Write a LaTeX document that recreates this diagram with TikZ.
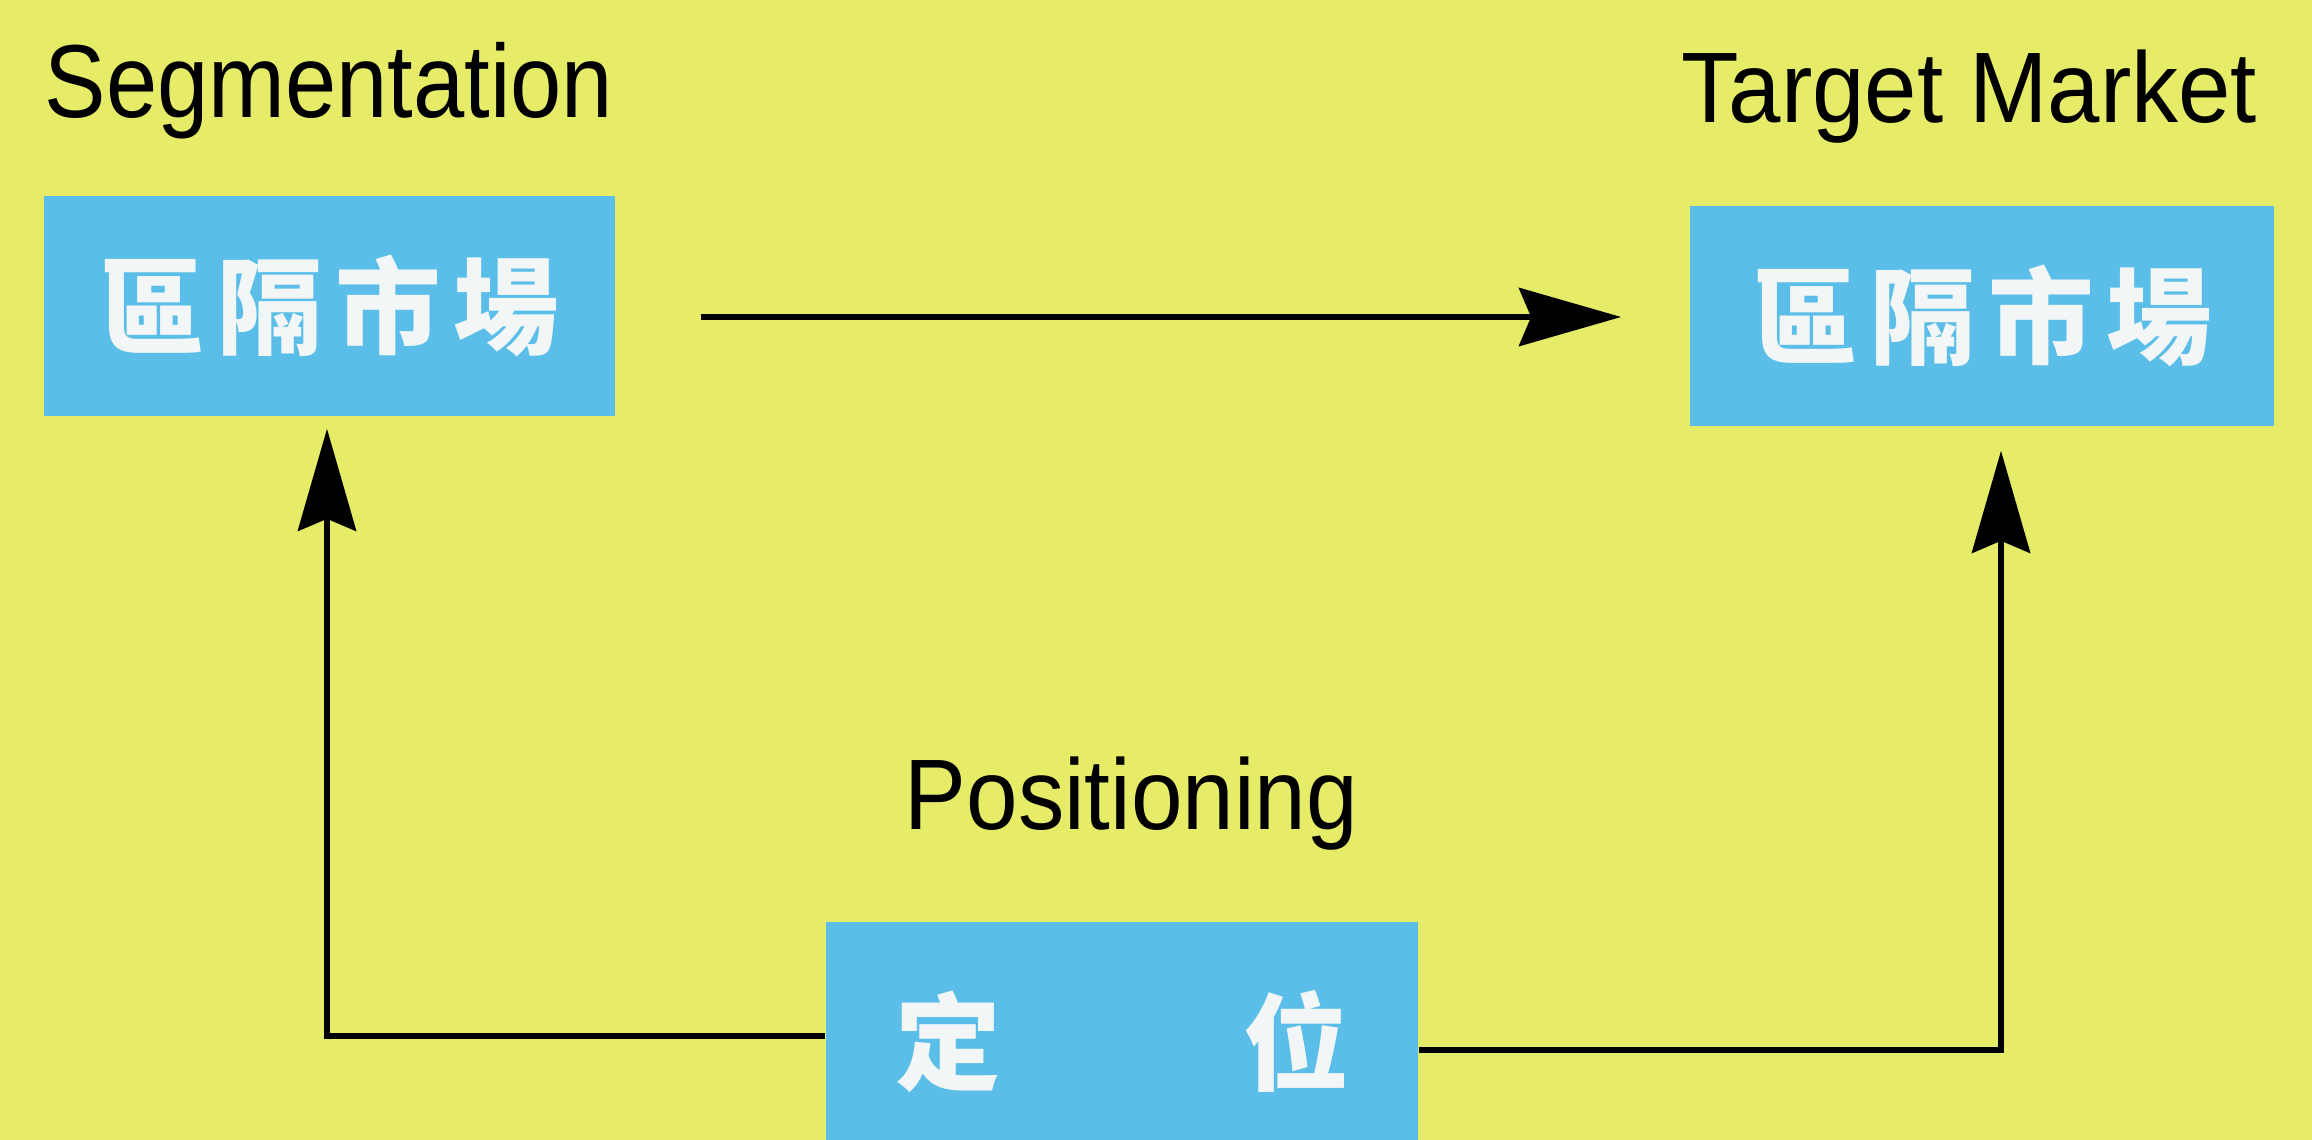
\documentclass[tikz,border=0pt]{standalone}
\usepackage{fontspec}
\setmainfont{Liberation Sans}
\newfontfamily\cjkfont{Noto Sans CJK TC}
\usetikzlibrary{arrows.meta,calc}
\definecolor{bgyellow}{RGB}{230,236,104}
\definecolor{boxblue}{RGB}{90,190,232}
\definecolor{cjkwhite}{RGB}{242,246,246}
\newcommand{\cjkgap}{\kern0.12em}
\tikzset{
  box/.style={fill=boxblue, draw=none, inner sep=0pt, text=cjkwhite,
    font=\cjkfont\bfseries\fontsize{30}{34}\selectfont},
  lbl/.style={anchor=base west, inner sep=0pt, text=black},
  arr/.style={line width=1.8pt, black, -{Stealth[length=1.02cm,width=0.58cm,inset=0.12cm]}},
}
\begin{document}
\begin{tikzpicture}[x=0.01cm,y=-0.01cm]
\useasboundingbox (0,0) rectangle (2312,1140);
\clip (0,0) rectangle (2312,1140);
\fill[bgyellow] (0,0) rectangle (2312,1140);
\node[box, minimum width=5.71cm, minimum height=2.20cm] (L) at (329.5,306) {\raisebox{-0.12cm}{區\cjkgap 隔\cjkgap 市\cjkgap 場}};
\node[box, minimum width=5.84cm, minimum height=2.20cm] (R) at (1982,316) {\raisebox{-0.1cm}{區\cjkgap 隔\cjkgap 市\cjkgap 場}};
\node[box, minimum width=5.92cm, minimum height=2.38cm] (P) at (1122,1041) {\raisebox{0.04cm}{定\hspace{2.3em}位}};
\node[lbl] (segl) at (44,118) {\fontsize{29.5}{32}\selectfont\resizebox{5.68cm}{\height}{Segmentation}};
\node[lbl] (tml) at (1681,123) {\fontsize{28.5}{32}\selectfont\resizebox{5.75cm}{\height}{Target Market}};
\node[lbl] (posl) at (904,829) {\fontsize{28.5}{30}\selectfont\resizebox{4.53cm}{\height}{Positioning}};
\draw[arr] ($(L.east)+(85,11)$) -- ($(R.west)+(-68,1)$);
\draw[arr] ($(P.west)+(0,-5)$) -| ($(L.south)+(-2.5,12)$);
\draw[arr] ($(P.east)+(0,9)$) -| ($(R.south)+(19,24)$);
\end{tikzpicture}
\end{document}
